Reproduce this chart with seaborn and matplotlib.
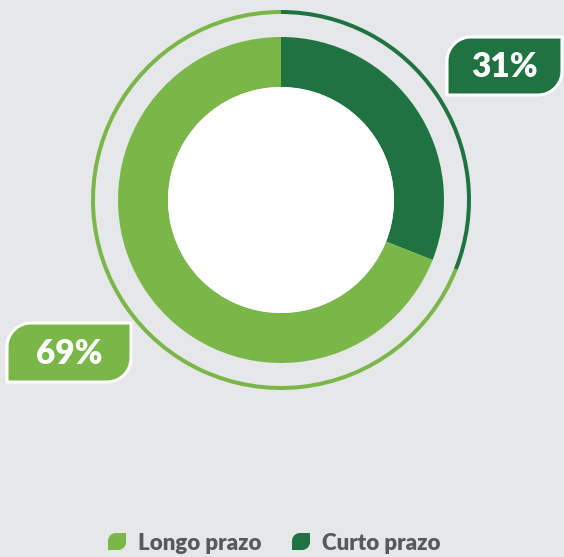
import numpy as np
import matplotlib.pyplot as plt
import seaborn as sns
from matplotlib.patches import PathPatch, Circle
from matplotlib.path import Path

# -----------------------------
# Data
# -----------------------------
categories = ["Curto prazo", "Longo prazo"]   # drawing order: clockwise from top
shares = [31, 69]
legend_order = ["Longo prazo", "Curto prazo"]

# -----------------------------
# Style
# -----------------------------
sns.set_theme(style="white")
plt.rcParams["font.family"] = ["Lato", "DejaVu Sans"]

BG = "#e6e7e9"
DARK = "#1e7341"
LIGHT = "#7ab648"
TEXT = "#58595b"
palette = dict(zip(categories, sns.color_palette([DARK, LIGHT])))

W, H = 564, 557
fig = plt.figure(figsize=(W / 100, H / 100), dpi=100, facecolor=BG)
ax = fig.add_axes([0, 0, 1, 1])


def px(y):
    # convert top-down pixel y to axis y
    return H - y


def leaf(x0, y0, w, h, r, n=16):
    # rectangle with rounded top-left and bottom-right corners
    x1, y1 = x0 + w, y0 + h
    pts = []
    for t in np.linspace(np.pi, 1.5 * np.pi, n):
        pts.append((x0 + r + r * np.cos(t), y0 + r + r * np.sin(t)))
    pts += [(x1, y0), (x1, y1 - r)]
    for t in np.linspace(0, 0.5 * np.pi, n):
        pts.append((x1 - r + r * np.cos(t), y1 - r + r * np.sin(t)))
    pts += [(x0, y1), (x0, y0 + r)]
    verts = [(x, px(y)) for x, y in pts]
    codes = [Path.MOVETO] + [Path.LINETO] * (len(verts) - 2) + [Path.CLOSEPOLY]
    return Path(verts, codes)


cx, cy = 281, px(200)
colors = [palette[c] for c in categories]

# outer thin ring
ax.pie(shares, colors=colors, startangle=90, counterclock=False,
       center=(cx, cy), radius=190, frame=True,
       wedgeprops=dict(width=4, linewidth=0))
# main donut
ax.pie(shares, colors=colors, startangle=90, counterclock=False,
       center=(cx, cy), radius=163, frame=True,
       wedgeprops=dict(width=50, linewidth=0))
ax.add_patch(Circle((cx, cy), 113, facecolor="white", edgecolor="none", zorder=3))
ax.set_xlim(0, W)
ax.set_ylim(0, H)
ax.set_aspect("equal")
ax.axis("off")

# value labels
label_boxes = {"Curto prazo": (447, 37, 115, 58), "Longo prazo": (7, 323, 124, 59)}
for cat, val in zip(categories, shares):
    x0, y0, w, h = label_boxes[cat]
    ax.add_patch(PathPatch(leaf(x0, y0, w, h, 24), facecolor=palette[cat],
                           edgecolor="white", linewidth=2.2, zorder=4))
    ax.text(x0 + w / 2, px(y0 + h / 2 + 1), f"{val}%", color="white",
            fontsize=24, fontweight="heavy", ha="center", va="center", zorder=5)

# legend
legend_x = {"Longo prazo": 108, "Curto prazo": 292}
for cat in legend_order:
    x0 = legend_x[cat]
    ax.add_patch(PathPatch(leaf(x0, 533, 18, 17, 8), facecolor=palette[cat],
                           edgecolor="none", zorder=4))
    ax.text(x0 + 30, px(544), cat, color=TEXT, fontsize=16,
            fontweight="heavy", ha="left", va="center")

fig.savefig("out.png", dpi=100, facecolor=BG)
